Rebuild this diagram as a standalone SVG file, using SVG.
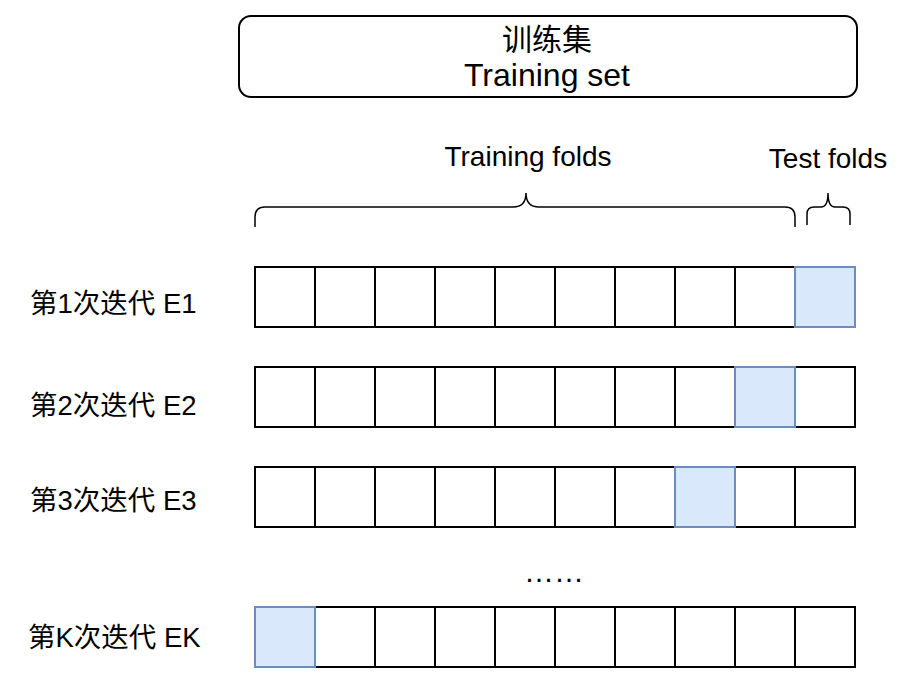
<svg xmlns="http://www.w3.org/2000/svg" width="908" height="684" viewBox="0 0 908 684">
<style>
text{font-family:"Liberation Sans","Noto Sans CJK SC",sans-serif;fill:#000}
.c{fill:#fff;stroke:#000;stroke-width:2}
.h{fill:#dae8fc;stroke:#6c8ebf;stroke-width:2}
.b{fill:none;stroke:#000;stroke-width:1.5}
.lbl{font-size:27.5px}
</style>
<defs>
<g id="row">
<rect class="c" x="255" y="0" width="60" height="60"/>
<rect class="c" x="315" y="0" width="60" height="60"/>
<rect class="c" x="375" y="0" width="60" height="60"/>
<rect class="c" x="435" y="0" width="60" height="60"/>
<rect class="c" x="495" y="0" width="60" height="60"/>
<rect class="c" x="555" y="0" width="60" height="60"/>
<rect class="c" x="615" y="0" width="60" height="60"/>
<rect class="c" x="675" y="0" width="60" height="60"/>
<rect class="c" x="735" y="0" width="60" height="60"/>
<rect class="c" x="795" y="0" width="60" height="60"/>
</g>
</defs>
<g id="training-set">
<rect x="239" y="16" width="618" height="81" rx="12" fill="#fff" stroke="#000" stroke-width="2"/>
<text x="547" y="50" font-size="30" text-anchor="middle">训练集</text>
<text x="547" y="86" font-size="32" text-anchor="middle">Training set</text>
</g>
<g id="training-folds">
<text x="528" y="166" font-size="28" text-anchor="middle">Training folds</text>
<path class="b" d="M255,227 V217 Q255,207 265,207 H513 Q526,207 526,193 Q526,207 539,207 H785 Q795,207 795,217 V227"/>
</g>
<g id="test-folds">
<text x="828" y="168" font-size="28" text-anchor="middle">Test folds</text>
<path class="b" d="M807,225 V214 Q807,207 814,207 H821 Q828,207 828,193 Q828,207 835,207 H843 Q850,207 850,214 V225"/>
</g>
<g id="row1">
<text class="lbl" x="30" y="313">第1次迭代 E1</text>
<use href="#row" y="267"/>
<rect class="h" x="795" y="267" width="60" height="60"/>
</g>
<g id="row2">
<text class="lbl" x="30" y="415">第2次迭代 E2</text>
<use href="#row" y="367"/>
<rect class="h" x="735" y="367" width="60" height="60"/>
</g>
<g id="row3">
<text class="lbl" x="30" y="510">第3次迭代 E3</text>
<use href="#row" y="467"/>
<rect class="h" x="675" y="467" width="60" height="60"/>
</g>
<g id="ellipsis">
<text x="554" y="582" font-size="30" text-anchor="middle">……</text>
</g>
<g id="rowK">
<text class="lbl" x="28" y="647">第K次迭代 EK</text>
<use href="#row" y="607"/>
<rect class="h" x="255" y="607" width="60" height="60"/>
</g>
<g id="connectors"></g>
</svg>
